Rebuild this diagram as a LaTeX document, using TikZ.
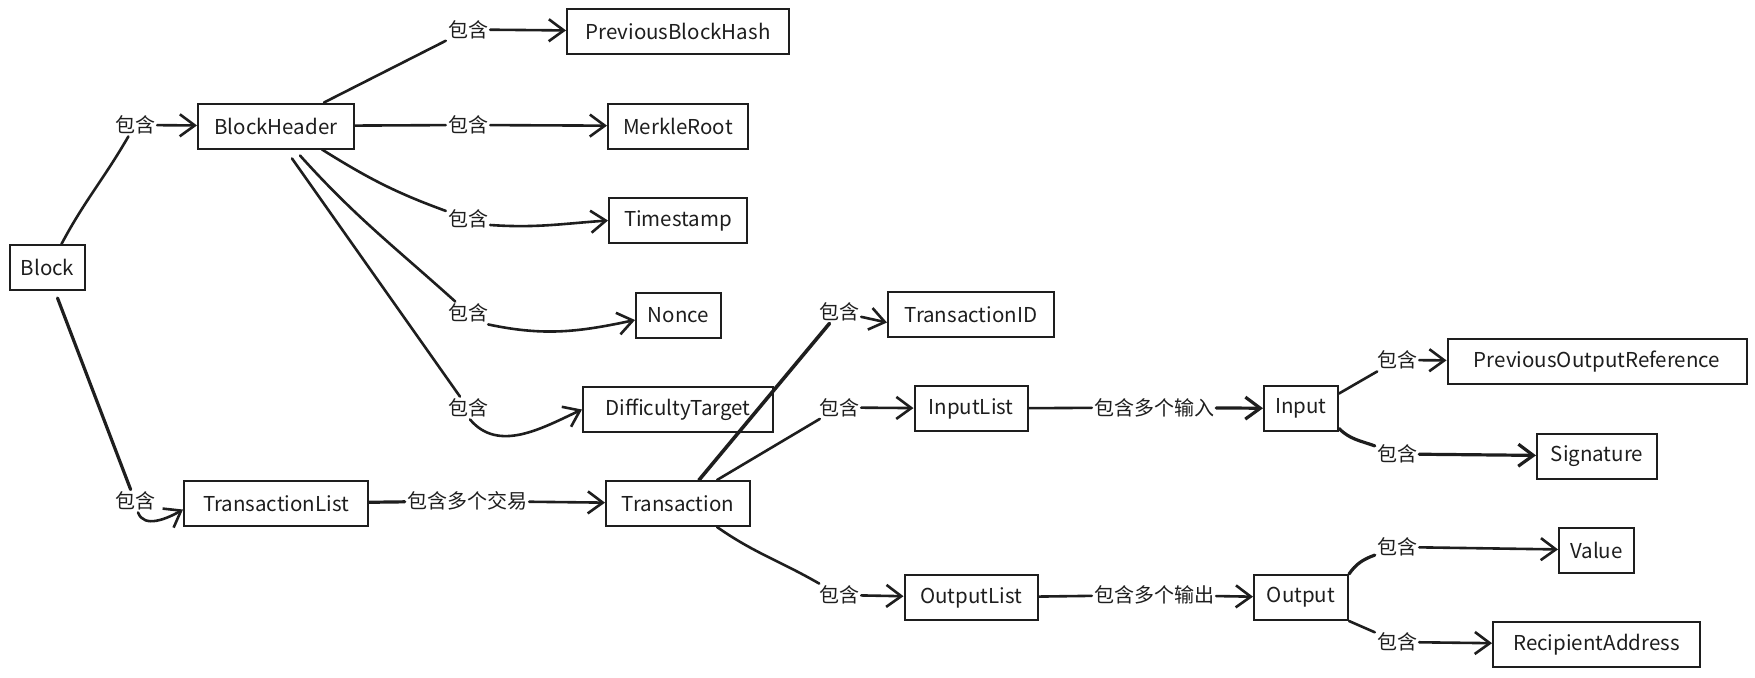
\documentclass[tikz,border=0pt]{standalone}
\usepackage{fontspec}
\setmainfont{Noto Sans CJK SC}
\usetikzlibrary{arrows.meta}
\definecolor{ink}{HTML}{1E1E1E}

\begin{document}
\begin{tikzpicture}[x=1pt,y=1pt,
    box/.style={draw=ink,line width=2pt,minimum height=45pt,inner sep=0pt,text=ink,font=\fontsize{20.5}{24}\selectfont},
    tag/.style={inner sep=2pt,text=ink,font=\fontsize{20}{22}\selectfont},
    link/.style={draw=ink,line width=2.6pt,line cap=round},
    arr/.style={link,-{Straight Barb[length=15pt,width=22pt]}}]
    \useasboundingbox (0,0) rectangle (1755,-677);
    \node[box,minimum width=75pt] (block) at (47.5,-267.5) {Block};
    \node[box,minimum width=156pt] (header) at (276,-126) {BlockHeader};
    \node[box,minimum width=222pt] (pbh) at (678,-31.5) {PreviousBlockHash};
    \node[box,minimum width=140pt] (merkle) at (678,-126) {MerkleRoot};
    \node[box,minimum width=138pt] (stamp) at (678,-220.5) {Timestamp};
    \node[box,minimum width=85pt] (nonce) at (678.5,-315) {Nonce};
    \node[box,minimum width=190pt] (target) at (678,-409.5) {DifficultyTarget};
    \node[box,minimum width=184pt] (txlist) at (276,-503.5) {TransactionList};
    \node[box,minimum width=144pt] (tx) at (678,-503.5) {Transaction};
    \node[box,minimum width=166pt] (txid) at (971,-314.5) {TransactionID};
    \node[box,minimum width=113pt] (inlist) at (971,-408.5) {InputList};
    \node[box,minimum width=133pt] (outlist) at (971,-597.5) {OutputList};
    \node[box,minimum width=74pt] (input) at (1301,-408.5) {Input};
    \node[box,minimum width=94pt] (output) at (1301,-597.5) {Output};
    \node[box,minimum width=299pt] (prevout) at (1597,-361.5) {PreviousOutputReference};
    \node[box,minimum width=120pt] (sig) at (1597,-456) {Signature};
    \node[box,minimum width=75pt] (value) at (1596.5,-550) {Value};
    \node[box,minimum width=207pt] (addr) at (1596.5,-644.5) {RecipientAddress};

    \node[tag] (e1) at (135,-125) {包含};
    \node[tag] (e2) at (468,-29.5) {包含};
    \node[tag] (e3) at (468,-125) {包含};
    \node[tag] (e4) at (468,-219) {包含};
    \node[tag] (e5) at (468,-313) {包含};
    \node[tag] (e6) at (468,-408) {包含};
    \node[tag] (e7) at (135,-501) {包含};
    \node[tag] (e8) at (467,-501) {包含多个交易};
    \node[tag] (e9) at (839,-312) {包含};
    \node[tag] (e10) at (839,-407.5) {包含};
    \node[tag] (e11) at (839,-595) {包含};
    \node[tag] (e12) at (1154,-407.5) {包含多个输入};
    \node[tag] (e13) at (1154,-595) {包含多个输出};
    \node[tag] (e14) at (1397,-360) {包含};
    \node[tag] (e15) at (1397,-454) {包含};
    \node[tag] (e16) at (1397,-547) {包含};
    \node[tag] (e17) at (1397,-642) {包含};

    \draw[link] ([xshift=14pt]block.north) to[out=62,in=240] (e1);
    \draw[arr] (e1) -- (header);
    \draw[link] ([xshift=48pt]header.north) -- (e2);
    \draw[arr] (e2) -- (pbh);
    \draw[link] (header) -- (e3);
    \draw[arr] (e3) -- (merkle);
    \draw[link] ([xshift=46pt]header.south) to[out=-32,in=160] (e4);
    \draw[arr] ([yshift=-6pt]e4.east) to[out=-4,in=184] (stamp.west);
    \draw[link] ([xshift=24pt,yshift=-6pt]header.south) to[out=-48,in=138] (e5);
    \draw[arr] ([xshift=-2pt]e5.south east) to[out=-12,in=192] ([yshift=-5pt]nonce.west);
    \draw[link] ([xshift=16pt,yshift=-9pt]header.south) -- (e6);
    \draw[arr] ([xshift=2pt]e6.south) to[out=-50,in=205] (target.west);
    \draw[link,line width=3.2pt] ([xshift=10pt,yshift=-7pt]block.south) -- (e7);
    \draw[arr] ([xshift=3pt]e7.south) to[out=-70,in=210] ([yshift=-6pt]txlist.west);
    \draw[link,line width=3.2pt] (txlist) -- (e8);
    \draw[arr] (e8) -- (tx);
    \draw[link,line width=3.6pt] ([xshift=21pt]tx.north) -- (e9);
    \draw[arr] (e9) -- ([yshift=-8pt]txid.west);
    \draw[link] ([xshift=39pt]tx.north) -- (e10);
    \draw[arr] (e10) -- (inlist);
    \draw[link] ([xshift=39pt]tx.south) to[out=-35,in=150] (e11);
    \draw[arr] (e11) -- (outlist);
    \draw[link] (inlist) -- (e12);
    \draw[arr,line width=3.2pt] (e12) -- (input);
    \draw[link] (outlist) -- (e13);
    \draw[arr] (e13) -- (output);
    \draw[link] ([yshift=15pt]input.east) -- (e14);
    \draw[arr] (e14) -- (prevout);
    \draw[link,line width=3.2pt] ([yshift=-20pt]input.east) to[out=-45,in=160] (e15);
    \draw[arr,line width=3.2pt] (e15) -- (sig);
    \draw[link,line width=3.2pt] (output.north east) to[out=55,in=200] (e16);
    \draw[arr] (e16) -- (value);
    \draw[link] (output.south east) -- (e17);
    \draw[arr] (e17) -- (addr);
\end{tikzpicture}
\end{document}
